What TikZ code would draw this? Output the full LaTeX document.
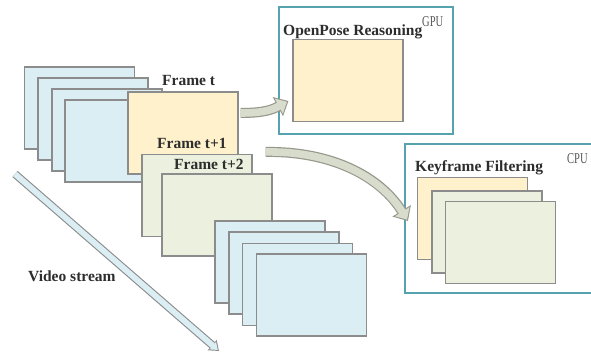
\documentclass[tikz,border=0pt]{standalone}
\usepackage{fontspec}
\setmainfont{Liberation Serif}
\usetikzlibrary{arrows.meta,calc}

\definecolor{frameedge}{RGB}{140,140,140}
\definecolor{paleblue}{RGB}{219,238,244}
\definecolor{paleyellow}{RGB}{255,241,204}
\definecolor{palegreen}{RGB}{235,241,222}
\definecolor{unitteal}{RGB}{86,162,174}
\definecolor{flowfill}{RGB}{216,220,204}
\definecolor{flowedge}{RGB}{150,152,140}
\definecolor{labeltext}{RGB}{45,45,45}
\definecolor{unittext}{RGB}{85,85,85}

\newcommand{\narrowunit}[1]{\scalebox{0.7}[1]{#1}}

\tikzset{
  framebox/.style={draw=frameedge, line width=1.1pt, minimum width=110pt,
    minimum height=82pt, inner sep=0pt},
  unitbox/.style={draw=unitteal, fill=white, line width=1.8pt, inner sep=0pt},
  framelabel/.style={anchor=base west, inner sep=0pt, text=labeltext,
    font=\bfseries\fontsize{15.5}{16}\selectfont},
  unitlabel/.style={anchor=base west, inner sep=0pt, text=unittext,
    font=\fontsize{15}{15}\selectfont},
  flowarrow/.style={draw=flowedge, line width=10pt,
    -{Triangle[length=12pt,width=21pt]},
    postaction={draw=flowfill, line width=7.6pt, shorten >=1.7pt,
      -{Triangle[length=9.2pt,width=16.5pt]}}},
  streamarrow/.style={draw=frameedge, line width=8pt,
    -{Triangle[length=9pt,width=13pt]},
    postaction={draw=paleblue, line width=5.8pt, shorten >=1.6pt,
      -{Triangle[length=6.6pt,width=9.4pt]}}}
}

\begin{document}
\begin{tikzpicture}[x=1pt,y=-1pt]
\clip (0,0) rectangle (591,354);
\fill[white] (0,0) rectangle (591,354);

% incoming video frames, earlier part of the stream
\node[framebox, fill=paleblue] (b1) at (79.5,108) {};
\node[framebox, fill=paleblue] (b2) at (93,119) {};
\node[framebox, fill=paleblue] (b3) at (107,130) {};
\node[framebox, fill=paleblue] (b4) at (120,141) {};

% current frame and the two following ones
\node[framebox, fill=paleyellow] (ft) at (183,133) {};
\node[framebox, fill=palegreen] (ft1) at (197,195.5) {};
\node[framebox, fill=palegreen] (ft2) at (217,215) {};

% later part of the stream
\node[framebox, fill=paleblue] (c1) at (270,262) {};
\node[framebox, fill=paleblue] (c2) at (284,273) {};
\node[framebox, fill=paleblue] (c3) at (297.5,284.5) {};
\node[framebox, fill=paleblue] (c4) at (311.5,295) {};

% GPU unit: pose estimation
\node[unitbox, minimum width=174pt, minimum height=127pt] (gpu) at (366,70.5) {};
\node[framebox, fill=paleyellow] (gpuin) at (348,80.5) {};

% CPU unit: keyframe filtering
\node[unitbox, minimum width=215pt, minimum height=149pt] (cpu) at (512.5,218.5) {};
\node[framebox, fill=paleyellow] (k1) at (472.5,218.5) {};
\node[framebox, fill=palegreen] (k2) at (487,232) {};
\node[framebox, fill=palegreen] (k3) at (500.5,242.5) {};

% direction of the video stream
\coordinate (vs-start) at (15,174);
\coordinate (vs-end) at (219,351);
\draw[streamarrow] (vs-start) -- (vs-end);

% frames handed to the two units
\coordinate (a1-start) at ($(ft.east)+(2,-20)$);
\coordinate (a1-end) at ($(gpuin.west)+(-4,20.5)$);
\draw[flowarrow] (a1-start) .. controls ($(a1-start)+(25,0)$) and ($(a1-end)+(-15,8)$) .. (a1-end);

\coordinate (a2-start) at ($(ft1.north east)+(13,-2)$);
\coordinate (a2-end) at ($(k1.west)+(-9,2.5)$);
\draw[flowarrow] (a2-start) .. controls ($(a2-start)+(65,-1)$) and ($(a2-end)+(-28,-45)$) .. (a2-end);

% labels
\node[framelabel] (lt) at (162,85) {Frame t};
\node[framelabel] (lt1) at (157,148.5) {Frame t+1};
\node[framelabel] (lt2) at (174,169) {Frame t+2};
\node[framelabel] (lpose) at (283,35) {OpenPose Reasoning};
\node[unitlabel] (lgpu) at (422,26) {\narrowunit{GPU}};
\node[framelabel] (lkey) at (415,171.5) {Keyframe Filtering};
\node[unitlabel] (lcpu) at (567,163) {\narrowunit{CPU}};
\node[framelabel] (lvs) at (28,281.5) {Video stream};
\end{tikzpicture}
\end{document}
